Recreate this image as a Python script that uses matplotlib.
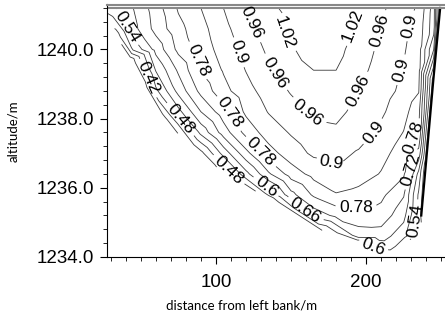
import numpy as np
import matplotlib
matplotlib.use("Agg")
import matplotlib.pyplot as plt
import matplotlib.tri as mtri
from matplotlib.path import Path
from matplotlib.ticker import MultipleLocator, FormatStrFormatter

nan = np.nan

# measuring verticals (distance from left bank, m) and altitudes (m)
grid_x = [30, 45, 60, 75, 90, 105, 120, 135, 150, 165, 180, 195, 210, 225, 235, 245]
grid_y = [1241.2, 1240.6, 1240.0, 1239.4, 1238.8, 1238.2, 1237.6, 1237.0,
          1236.4, 1235.8, 1235.2, 1234.6]

# flow velocity (m/s), one row per altitude, nan = below the bed
vel = [
    [0.52, 0.60, 0.69, 0.787, 0.84, 0.90, 0.963, 1.008, 1.035, 1.05, 1.045, 1.027, 0.97, 0.925, 0.892, 0.75],
    [nan, 0.58, 0.68, 0.761, 0.82, 0.881, 0.94, 0.99, 1.04, 1.06, 1.05, 1.01, 0.956, 0.915, 0.875, 0.744],
    [nan, 0.49, 0.62, 0.736, 0.807, 0.865, 0.921, 0.971, 1.013, 1.05, 1.04, 0.991, 0.947, 0.906, 0.864, 0.66],
    [nan, nan, 0.544, 0.67, 0.784, 0.845, 0.902, 0.952, 0.993, 1.02, 1.02, 0.978, 0.936, 0.896, 0.858, nan],
    [nan, nan, 0.465, 0.62, 0.738, 0.82, 0.879, 0.926, 0.965, 0.995, 1.0, 0.96, 0.926, 0.885, 0.844, nan],
    [nan, nan, nan, 0.52, 0.66, 0.754, 0.852, 0.903, 0.938, 0.97, 0.975, 0.943, 0.91, 0.86, 0.80, nan],
    [nan, nan, nan, nan, 0.557, 0.687, 0.80, 0.87, 0.905, 0.935, 0.95, 0.93, 0.886, 0.838, 0.782, nan],
    [nan, nan, nan, nan, 0.40, 0.5625, 0.70, 0.814, 0.873, 0.91, 0.92, 0.893, 0.86, 0.81, 0.70, nan],
    [nan, nan, nan, nan, nan, nan, 0.58, 0.71, 0.807, 0.86, 0.89, 0.87, 0.836, 0.79, 0.58, nan],
    [nan, nan, nan, nan, nan, nan, nan, 0.55, 0.70, 0.79, 0.835, 0.82, 0.795, 0.725, 0.53, nan],
    [nan, nan, nan, nan, nan, nan, nan, nan, nan, 0.68, 0.735, 0.76, 0.755, 0.68, 0.52, nan],
    [nan, nan, nan, nan, nan, nan, nan, nan, nan, nan, nan, 0.685, 0.69, 0.62, nan, nan],
]

# river bed / banks and velocity on it
bed_x = [26.7, 34, 42, 50.7, 65.3, 84, 108.7, 135.3, 170.7, 194, 205.3, 216.7,
         227.3, 236.7, 236.7, 240, 244.7, 249.3]
bed_y = [1241.18, 1240.46, 1239.68, 1238.96, 1238.01, 1237.14, 1236.33, 1235.69,
         1234.77, 1234.45, 1234.16, 1234.16, 1234.48, 1234.6, 1235.2, 1236.79,
         1239.1, 1241.2]
bed_v = [0.50, 0.40, 0.30, 0.30, 0.34, 0.38, 0.44, 0.50, 0.54, 0.57, 0.58, 0.59,
         0.55, 0.50, 0.47, 0.45, 0.45, 0.45]

water_level = 1241.2
levels = [0.36, 0.42, 0.48, 0.54, 0.6, 0.66, 0.72, 0.78, 0.84, 0.9, 0.96, 1.02]

# where the contour labels sit (layout only)
label_spots = {
    0.42: [(56.2, 1239.19)],
    0.48: [(76.9, 1238.0), (109.5, 1236.56)],
    0.54: [(39.5, 1240.6), (232, 1235.06)],
    0.6: [(132.8, 1236.0), (205.3, 1234.34)],
    0.66: [(158.2, 1235.29)],
    0.72: [(232, 1236.5)],
    0.78: [(87.5, 1239.68), (109.5, 1238.18), (130.8, 1237.08),
           (193.3, 1235.43), (236.7, 1237.23)],
    0.9: [(114.8, 1239.91), (175.3, 1236.65), (206.7, 1237.57),
          (225.3, 1239.39), (228.7, 1240.69)],
    0.96: [(127.5, 1240.85), (138.2, 1239.3), (160.8, 1238.15),
           (200, 1238.67), (208.5, 1240.55)],
    1.02: [(146.2, 1240.49), (191.5, 1240.69)],
}

# --- collect points inside the channel ---
V = np.array(vel)
gx, gy = np.meshgrid(grid_x, grid_y)
ok = ~np.isnan(V)
px = np.concatenate([gx[ok], bed_x])
py = np.concatenate([gy[ok], bed_y])
pv = np.concatenate([V[ok], bed_v])

# triangulate in scaled coordinates, mask triangles outside the section
t0 = mtri.Triangulation(px, (py - 1234) * 30)
tri = mtri.Triangulation(px, py, t0.triangles)
outline = Path(list(zip(bed_x, bed_y)) + [(bed_x[0], water_level)])
cx = px[tri.triangles].mean(axis=1)
cy = py[tri.triangles].mean(axis=1)
tri.set_mask(~outline.contains_points(np.column_stack([cx, cy])))

fig = plt.figure(figsize=(4.45, 3.2), dpi=100)
ax = fig.add_axes([107 / 445, 63 / 320, 338 / 445, 252.5 / 320])
ax.set_xlim(27.5, 252.5)
ax.set_ylim(1234.0, 1241.3)

# one contour set per level so each label lands on its own line
for lev in levels:
    cs = ax.tricontour(tri, pv, levels=[lev], colors='#3a3a3a', linewidths=0.6)
    spots = label_spots.get(lev)
    if spots:
        ax.clabel(cs, manual=spots, fmt='%g', fontsize=12.5, colors='black',
                  inline=True, inline_spacing=2)
for t in ax.texts:
    t.set_family('Liberation Sans')

# right bank
ax.plot(bed_x[14:], bed_y[14:], color='black', lw=1.6)
# water surface
ax.axhline(water_level, color='#888888', lw=1.5)

ax.xaxis.set_major_locator(MultipleLocator(100))
ax.xaxis.set_minor_locator(MultipleLocator(10))
ax.yaxis.set_major_locator(MultipleLocator(2))
ax.yaxis.set_minor_locator(MultipleLocator(0.4))
ax.yaxis.set_major_formatter(FormatStrFormatter('%.1f'))
ax.tick_params(axis='y', which='major', length=5, width=0.8, labelsize=13.5, pad=4)
ax.tick_params(axis='x', which='major', length=5, width=0.8, labelsize=13.5, pad=7)
ax.tick_params(which='minor', length=3, width=0.6)
for lab in ax.get_xticklabels() + ax.get_yticklabels():
    lab.set_family('Liberation Sans')

ax.spines['right'].set_visible(False)
ax.spines['top'].set_color('#888888')
ax.spines['top'].set_linewidth(1.5)
ax.spines['left'].set_linewidth(0.8)
ax.spines['bottom'].set_linewidth(0.8)

ax.set_xlabel('distance from left bank/m', fontsize=9.5, family='Lato')
ax.xaxis.set_label_coords((242 - 107) / 338, -0.17)
ax.set_ylabel('altitude/m', fontsize=9.5, family='Lato')
ax.yaxis.set_label_coords(-0.26, 0.5)

fig.savefig('out.png', dpi=100)
